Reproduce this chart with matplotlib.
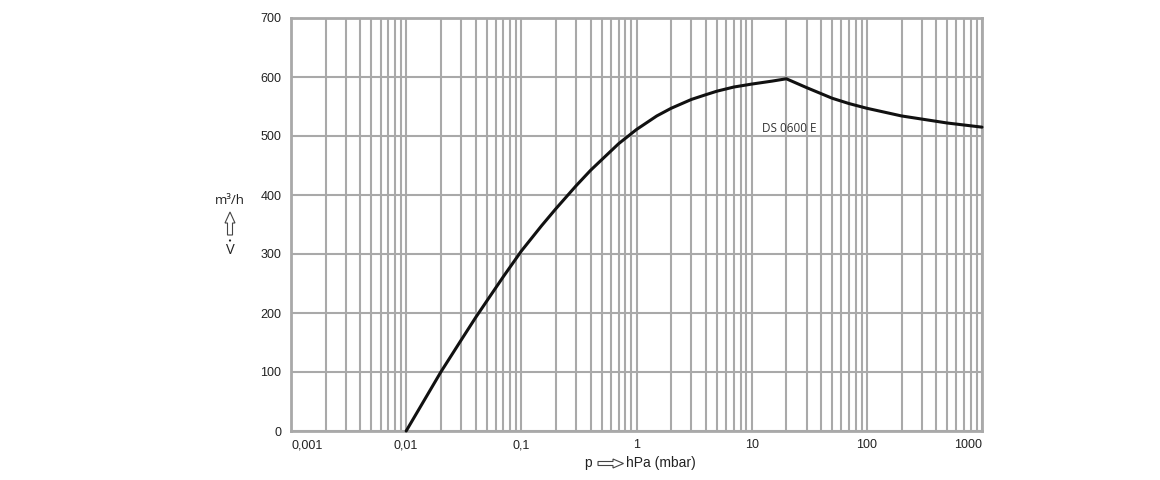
import matplotlib
matplotlib.use("Agg")
import matplotlib.pyplot as plt
from matplotlib.patches import Polygon, Ellipse
from matplotlib.ticker import FixedLocator, NullFormatter

plt.rcParams['font.family'] = ['Liberation Sans', 'DejaVu Sans']

# data
pressure = [0.01, 0.02, 0.03, 0.04, 0.05, 0.07, 0.1, 0.15, 0.2, 0.3, 0.4, 0.5, 0.7, 1, 1.5,
            2, 3, 4, 5, 7, 10, 15, 20, 30, 50, 70, 100, 200, 500, 1000]
speed = [0, 100, 154, 192, 220, 262, 305, 348, 377, 416, 442, 460, 487, 511, 534,
         547, 562, 570, 576, 583, 588, 593, 597, 582, 564, 555, 547, 534, 522, 515]
x_ticks = [0.001, 0.01, 0.1, 1, 10, 100, 1000]
x_ticklabels = ['0,001', '0,01', '0,1', '1', '10', '100', '1000']
y_ticks = [0, 100, 200, 300, 400, 500, 600, 700]
curve_label = 'DS 0600 E'

W, H = 1160, 480
fig = plt.figure(figsize=(W / 100, H / 100), dpi=100)
ax = fig.add_axes([291 / W, 49 / H, 691 / W, 413 / H])


def px(x, y):
    return (x / W, 1 - y / H)


grid_c = '#a9a9a9'
ax.set_xscale('log')
ax.set_xlim(0.001, 1000)
ax.set_ylim(0, 700)

minor = [m * 10.0**e for e in range(-3, 3) for m in range(2, 10)]
ax.xaxis.set_minor_locator(FixedLocator(minor))
ax.xaxis.set_minor_formatter(NullFormatter())
ax.set_xticks(x_ticks)
ax.set_xticklabels(x_ticklabels)
ax.set_yticks(y_ticks)
ax.set_yticklabels([str(v) for v in y_ticks])

ax.grid(True, which='both', axis='x', color=grid_c, linewidth=1.5)
ax.grid(True, which='major', axis='y', color=grid_c, linewidth=1.5)
ax.set_axisbelow(True)

for s in ax.spines.values():
    s.set_color(grid_c)
    s.set_linewidth(2)

ax.tick_params(axis='both', which='both', length=0, labelsize=9, colors='#222222')
ax.tick_params(axis='x', pad=6)
ax.tick_params(axis='y', pad=7)
labels = ax.get_xticklabels()
labels[0].set_horizontalalignment('left')
labels[-1].set_horizontalalignment('right')

ax.plot(pressure, speed, color='#111111', linewidth=2.2, solid_joinstyle='round',
        solid_capstyle='round', clip_on=False, zorder=3)

ax.text(12.3, 513, curve_label, fontsize=8.5, color='#333333', va='center', ha='left',
        family=['Open Sans', 'DejaVu Sans'])

# y-axis label: m³/h, up arrow, V-dot
hum = ['Open Sans', 'Noto Sans', 'DejaVu Sans']
fig.text(*px(230, 200), 'm³/h', fontsize=9.5, ha='center', va='center', color='#222222', family=hum)
fig.text(*px(230, 250), 'V', fontsize=10.5, ha='center', va='center', color='#222222', family=hum)
fig.patches.append(Ellipse(px(230, 240.5), 2.2 / W, 2.2 / H, transform=fig.transFigure,
                           facecolor='#222222', edgecolor='none'))
up = [px(227.5, 235), px(232.5, 235), px(232.5, 223), px(235, 223), px(230, 212),
      px(225, 223), px(227.5, 223)]
fig.patches.append(Polygon(up, closed=True, transform=fig.transFigure, facecolor='white',
                           edgecolor='#444444', linewidth=0.8))

# x-axis label: p => hPa (mbar)
fig.text(*px(588, 463), 'p', fontsize=10, ha='center', va='center', color='#222222')
fig.text(*px(626, 463), 'hPa (mbar)', fontsize=10, ha='left', va='center', color='#222222')
right = [px(598, 461.5), px(613, 461.5), px(613, 459), px(623.5, 463.5), px(613, 468),
         px(613, 465.5), px(598, 465.5)]
fig.patches.append(Polygon(right, closed=True, transform=fig.transFigure, facecolor='white',
                           edgecolor='#444444', linewidth=0.8))

fig.savefig('out.png', dpi=100)
